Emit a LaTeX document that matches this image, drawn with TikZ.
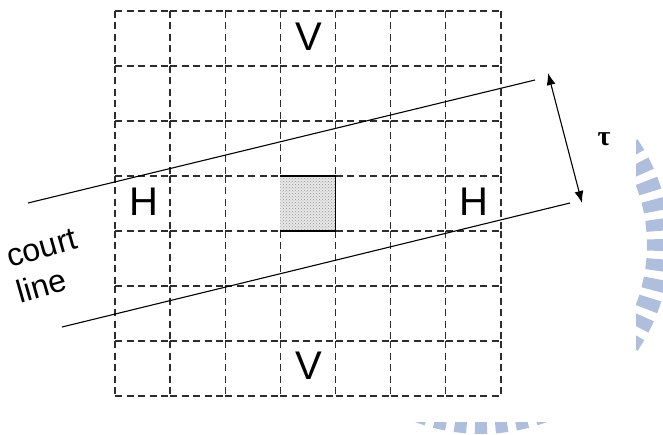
\documentclass[tikz,border=0pt]{standalone}
\usepackage{fontspec}
\setmainfont{Liberation Sans}
\newfontfamily\greekserif{Liberation Serif}
\usetikzlibrary{patterns,arrows.meta}
\definecolor{wmblue}{RGB}{176,190,222}
\definecolor{gridgray}{RGB}{45,45,45}
\begin{document}
\begin{tikzpicture}[x=1pt,y=-1pt,
  cellbox/.style={draw=gridgray, line width=1.3pt, dash pattern=on 7pt off 4.5pt},
  courtline/.style={draw=black, line width=1.1pt},
  biglabel/.style={font=\fontsize{40}{40}\selectfont, inner sep=0pt},
  courtlabel/.style={font=\fontsize{32}{37}\selectfont, inner sep=0pt, align=left, rotate=16},
  taulabel/.style={font=\greekserif\bfseries\fontsize{28}{28}\selectfont, inner sep=0pt},
  wmbar/.style={fill=wmblue}]
\useasboundingbox (0,0) rectangle (663,435);

% faint watermark at the right and bottom edges
\begin{scope}
  \clip (636,0) rectangle (663,435) (0,422) rectangle (663,435);
  \foreach \k in {0,...,55} {
    \pgfmathsetmacro\wmA{\k*6.428571-1.9}
    \pgfmathsetmacro\wmB{\k*6.428571+1.9}
    \fill[wmbar] ({481+166*cos(\wmA)},{245+166*sin(\wmA)})
      -- ({481+189*cos(\wmA)},{245+189*sin(\wmA)})
      -- ({481+189*cos(\wmB)},{245+189*sin(\wmB)})
      -- ({481+166*cos(\wmB)},{245+166*sin(\wmB)}) -- cycle;
  }
\end{scope}

% dashed grid: every cell edge starts at the cell's top-left corner
\foreach \i in {0,...,6} {
  \foreach \j in {0,...,6} {
    \draw[cellbox] ({115+\i*55.14},{11+\j*55}) -- ++(55.14,0);
    \draw[cellbox] ({115+\i*55.14},{11+\j*55}) -- ++(0,55);
  }
  \draw[cellbox] ({115+\i*55.14},396) -- ++(55.14,0);
  \draw[cellbox] (501,{11+\i*55}) -- ++(0,55);
}

% shaded centre cell
\path[fill=gray!18, postaction={pattern=crosshatch dots, pattern color=gray!85}]
  (280.4,176) rectangle (335.6,231);
\draw[line width=1.3pt, line join=miter] (280.4,176) -- (335.6,176) -- (335.6,231) -- (280.4,231);

% court lines
\coordinate (u1) at (28,203);
\coordinate (u2) at (535,80);
\coordinate (l1) at (62,327);
\coordinate (l2) at (570,203);
\draw[courtline] (u1) -- (u2);
\draw[courtline] (l1) -- (l2);

% tau arrow
\coordinate (t1) at (548,73);
\coordinate (t2) at (582,203);
\draw[line width=1.1pt, {Latex[length=12pt,width=9pt]}-{Latex[length=12pt,width=9pt]}] (t1) -- (t2);
\node[taulabel] (tau) at (604,139) {τ};

% labels
\node[biglabel] (vtop) at (308.5,37) {V};
\node[biglabel] (vbot) at (308.5,366) {V};
\node[biglabel] (hleft) at (144,202) {H};
\node[biglabel] (hright) at (474,202) {H};
\node[courtlabel] (court) at (47,266) {court\\line};
\end{tikzpicture}
\end{document}
